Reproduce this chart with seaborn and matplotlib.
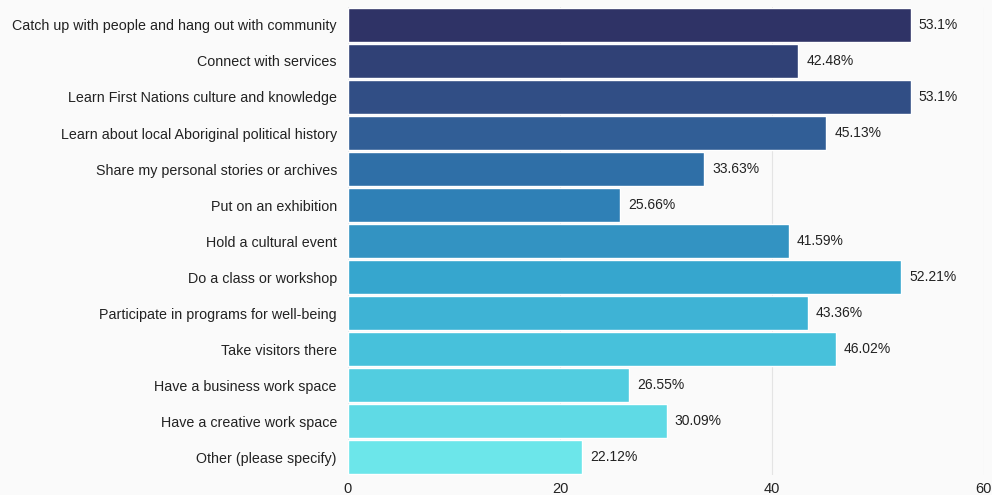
import matplotlib
matplotlib.use("Agg")
import matplotlib.pyplot as plt
import seaborn as sns
import pandas as pd
from matplotlib.colors import LinearSegmentedColormap

categories = [
    "Catch up with people and hang out with community",
    "Connect with services",
    "Learn First Nations culture and knowledge",
    "Learn about local Aboriginal political history",
    "Share my personal stories or archives",
    "Put on an exhibition",
    "Hold a cultural event",
    "Do a class or workshop",
    "Participate in programs for well-being",
    "Take visitors there",
    "Have a business work space",
    "Have a creative work space",
    "Other (please specify)",
]
values = [53.1, 42.48, 53.1, 45.13, 33.63, 25.66, 41.59, 52.21, 43.36, 46.02, 26.55, 30.09, 22.12]
value_labels = ["53.1%", "42.48%", "53.1%", "45.13%", "33.63%", "25.66%", "41.59%",
                "52.21%", "43.36%", "46.02%", "26.55%", "30.09%", "22.12%"]
x_ticks = [0, 20, 40, 60]

df = pd.DataFrame({"category": categories, "value": values})

cmap = LinearSegmentedColormap.from_list(
    "grad", ["#2f3366", "#32548c", "#2e7db4", "#37a9d0", "#4cc8de", "#6ce6ea"])
n = len(categories)
palette = [cmap(i / (n - 1)) for i in range(n)]

sns.set_theme(style="white")
plt.rcParams["font.family"] = ["Liberation Sans", "DejaVu Sans"]

fig = plt.figure(figsize=(9.92, 4.95), dpi=100, facecolor="#fafafa")
ax = fig.add_axes([0.3508, 0.040, 0.641, 0.946])
ax.set_facecolor("#fafafa")

sns.barplot(data=df, y="category", x="value", hue="category", palette=palette,
            legend=False, width=0.94, ax=ax, saturation=1, zorder=3)

for i, (v, lab) in enumerate(zip(values, value_labels)):
    ax.text(v + 0.75, i, lab, va="center", ha="left", fontsize=10, color="#222222")

ax.set_xlim(0, 60)
ax.set_ylim(n - 0.5, -0.5)
ax.set_xticks(x_ticks)
ax.set_xticklabels([str(t) for t in x_ticks], fontsize=10.5, color="#222222")
ax.tick_params(axis="y", labelsize=10.3, labelcolor="#222222", length=0, pad=8)
ax.tick_params(axis="x", length=0, pad=5)
ax.grid(axis="x", color="#e4e4e4", linewidth=0.8, zorder=0)
ax.set_xlabel("")
ax.set_ylabel("")
for s in ax.spines.values():
    s.set_visible(False)

fig.savefig("out.png", dpi=100, facecolor=fig.get_facecolor())
